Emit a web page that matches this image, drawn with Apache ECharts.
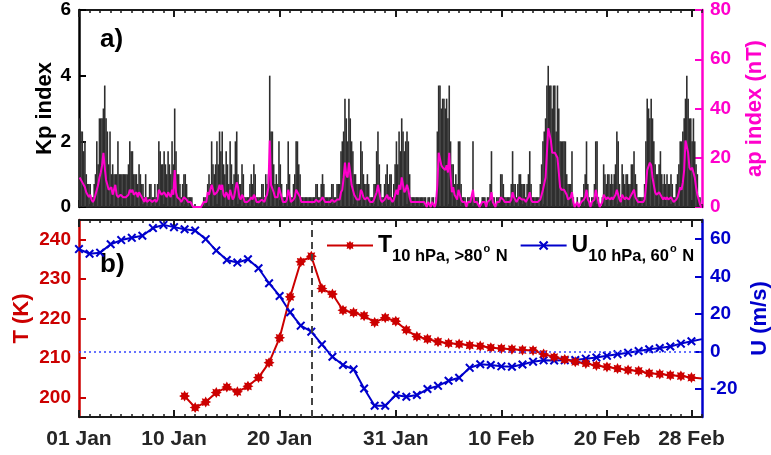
<!DOCTYPE html>
<html>
<head>
<meta charset="utf-8">
<script src="https://cdn.jsdelivr.net/npm/echarts@6/dist/echarts.min.js"></script>
<style>
html, body { margin: 0; padding: 0; background: #fff; }
#chart { width: 771px; height: 455px; }
</style>
</head>
<body>
<div id="chart"></div>
<script>
// Time axis: days since 01 Jan, labelled at these days
const dayCount = 59;
const tickDays = [0, 9, 19, 30, 40, 50, 58];
const tickLabels = ['01 Jan', '10 Jan', '20 Jan', '31 Jan', '10 Feb', '20 Feb', '28 Feb'];

// 3-hourly Kp index, one row of eight values per day (01 Jan .. 28 Feb)
const kp = [
  2.7, 2.3, 2.3, 1.7, 2.0, 1.0, 0.7, 0.7,
  0.7, 0.3, 0.3, 0.7, 1.0, 2.0, 1.3, 2.7,
  2.7, 2.7, 3.0, 3.7, 2.7, 2.3, 1.3, 2.3,
  1.0, 1.3, 1.0, 1.0, 1.0, 2.0, 1.0, 1.0,
  1.0, 1.0, 1.0, 1.0, 1.0, 1.3, 2.0, 1.7,
  1.7, 1.0, 1.0, 1.0, 0.7, 1.3, 1.0, 0.7,
  0.7, 0.3, 1.0, 0.3, 0.3, 0.7, 0.7, 0.3,
  0.3, 0.7, 0.3, 0.7, 2.0, 1.7, 1.3, 1.3,
  1.7, 1.3, 1.0, 1.7, 1.3, 1.0, 2.0, 1.3,
  3.0, 1.7, 1.0, 1.0, 0.7, 0.3, 0.7, 1.0,
  1.0, 0.7, 0.3, 0.3, 0.3, 0.3, 0.0, 0.0,
  0.0, 0.0, 0.0, 0.0, 0.0, 0.0, 0.3, 0.3,
  0.3, 0.7, 1.0, 0.7, 2.0, 1.3, 1.0, 1.3,
  2.0, 1.3, 2.3, 1.7, 2.3, 1.3, 1.0, 1.7,
  1.3, 0.7, 2.0, 1.3, 0.7, 1.0, 2.0, 2.3,
  1.0, 0.7, 0.7, 1.3, 1.0, 0.3, 0.3, 0.3,
  0.3, 0.7, 1.0, 0.7, 1.3, 1.0, 0.3, 0.3,
  0.3, 0.3, 0.7, 0.7, 0.3, 1.0, 0.7, 1.0,
  4.0, 2.3, 2.3, 1.3, 0.7, 1.0, 0.7, 2.0,
  1.3, 0.7, 0.3, 0.3, 0.3, 0.7, 2.0, 1.0,
  0.3, 0.3, 0.7, 1.0, 2.0, 2.0, 1.3, 1.0,
  0.3, 0.3, 0.3, 0.3, 0.3, 0.3, 0.3, 0.3,
  0.3, 0.3, 0.3, 0.7, 0.7, 0.3, 0.3, 0.7,
  1.0, 0.7, 0.3, 0.3, 0.3, 0.3, 0.3, 0.7,
  0.7, 0.3, 0.3, 0.7, 0.7, 0.7, 1.7, 2.0,
  2.3, 3.3, 2.7, 2.0, 3.3, 2.7, 2.0, 1.7,
  1.0, 1.0, 0.7, 0.7, 0.7, 2.0, 1.7, 1.0,
  0.7, 0.7, 1.0, 0.7, 0.3, 0.3, 0.3, 0.7,
  0.7, 1.7, 2.3, 1.3, 0.7, 0.3, 0.3, 0.7,
  1.0, 1.3, 0.7, 1.0, 1.0, 0.3, 0.7, 1.3,
  2.0, 1.3, 2.3, 1.7, 2.7, 2.3, 1.7, 2.0,
  2.3, 2.0, 1.0, 0.3, 0.3, 0.3, 0.3, 0.3,
  0.3, 0.3, 0.3, 0.3, 0.3, 0.3, 0.3, 0.0,
  0.3, 0.3, 0.0, 0.3, 0.3, 0.0, 0.3, 2.3,
  3.7, 3.7, 3.0, 3.3, 3.3, 3.0, 3.3, 2.7,
  3.7, 2.0, 1.3, 1.3, 0.7, 1.0, 0.7, 2.0,
  2.0, 0.7, 0.3, 0.3, 0.3, 0.0, 0.3, 0.3,
  0.3, 0.3, 2.0, 0.3, 0.3, 0.3, 0.3, 0.0,
  0.0, 0.3, 0.3, 0.3, 0.0, 0.3, 0.3, 0.7,
  1.7, 0.3, 0.3, 0.0, 0.3, 0.3, 0.3, 1.0,
  1.0, 0.7, 0.3, 0.3, 0.3, 0.3, 0.3, 0.7,
  1.7, 0.7, 0.7, 0.3, 0.7, 1.0, 1.0, 0.7,
  0.7, 0.7, 0.3, 0.7, 1.0, 1.7, 0.7, 0.3,
  0.3, 0.3, 0.3, 0.3, 0.3, 0.7, 1.3, 2.0,
  2.3, 2.7, 3.7, 4.3, 3.7, 3.7, 3.0, 3.7,
  3.7, 2.3, 3.7, 3.0, 2.0, 2.0, 2.0, 2.0,
  2.0, 1.0, 0.7, 0.7, 0.7, 1.7, 0.3, 0.0,
  0.0, 0.3, 0.0, 0.0, 0.3, 0.3, 0.7, 1.0,
  2.0, 0.7, 0.3, 0.0, 0.3, 0.3, 0.7, 2.0,
  2.0, 0.3, 0.0, 0.0, 0.3, 1.3, 1.0, 0.7,
  1.0, 1.0, 0.7, 1.0, 0.7, 1.0, 1.3, 2.3,
  2.0, 0.7, 0.3, 1.3, 1.0, 0.7, 1.0, 1.0,
  0.7, 0.7, 1.3, 1.3, 1.7, 1.0, 0.7, 0.3,
  0.3, 0.3, 0.3, 0.3, 0.7, 2.0, 3.3, 3.0,
  2.7, 3.3, 2.7, 2.0, 1.3, 1.0, 1.0, 1.3,
  1.7, 1.0, 0.7, 1.0, 0.7, 1.0, 0.7, 0.7,
  1.0, 0.7, 0.3, 0.3, 0.7, 1.0, 1.3, 2.0,
  2.0, 2.3, 2.7, 3.3, 4.0, 3.3, 2.7, 2.7,
  2.0, 2.7, 2.0, 1.3, 1.0, 0.3, 0.3, 0.0
];

// 3-hourly ap index (nT), same layout as kp
const ap = [
  12, 11, 10, 9, 8, 6, 5, 4,
  5, 3, 2, 3, 5, 7, 9, 12,
  14, 17, 22, 16, 11, 9, 7, 7,
  8, 5, 5, 9, 5, 4, 4, 5,
  5, 4, 4, 4, 4, 5, 7, 6,
  7, 5, 5, 6, 4, 6, 5, 4,
  3, 2, 4, 2, 2, 3, 3, 2,
  2, 3, 2, 3, 7, 6, 5, 5,
  6, 5, 4, 6, 5, 4, 7, 5,
  15, 6, 4, 4, 3, 2, 3, 4,
  4, 3, 2, 2, 2, 2, 0, 0,
  0, 0, 0, 0, 0, 0, 2, 2,
  2, 6, 5, 5, 9, 7, 5, 5,
  6, 7, 9, 7, 9, 5, 4, 6,
  5, 3, 7, 5, 3, 4, 7, 10,
  8, 4, 3, 5, 4, 2, 2, 2,
  2, 3, 4, 3, 5, 4, 2, 2,
  2, 2, 3, 3, 2, 4, 5, 8,
  27, 9, 9, 6, 4, 4, 4, 8,
  8, 4, 2, 2, 2, 3, 7, 5,
  2, 2, 3, 4, 7, 7, 5, 4,
  2, 2, 2, 2, 2, 2, 2, 2,
  2, 2, 2, 3, 3, 2, 2, 3,
  4, 3, 2, 2, 2, 2, 2, 3,
  3, 2, 2, 3, 3, 3, 6, 7,
  12, 18, 13, 12, 18, 14, 9, 7,
  5, 4, 3, 3, 3, 7, 6, 4,
  3, 3, 4, 3, 2, 2, 2, 3,
  3, 6, 9, 6, 3, 2, 2, 3,
  4, 5, 3, 4, 4, 2, 3, 5,
  7, 5, 9, 7, 12, 9, 6, 7,
  9, 7, 4, 2, 2, 2, 2, 2,
  2, 2, 2, 2, 2, 2, 2, 0,
  2, 2, 0, 2, 2, 0, 2, 9,
  22, 22, 17, 16, 16, 15, 17, 14,
  22, 13, 6, 8, 5, 4, 3, 7,
  5, 3, 2, 2, 2, 0, 2, 2,
  2, 2, 7, 2, 2, 2, 2, 0,
  0, 2, 2, 2, 0, 2, 2, 3,
  6, 2, 2, 0, 2, 2, 2, 4,
  4, 3, 2, 2, 2, 2, 2, 3,
  6, 4, 3, 2, 3, 4, 4, 3,
  3, 3, 2, 3, 4, 6, 3, 2,
  2, 2, 2, 2, 2, 3, 5, 7,
  7, 12, 22, 32, 32, 27, 22, 22,
  22, 22, 20, 14, 8, 7, 7, 7,
  7, 5, 3, 3, 4, 6, 2, 0,
  0, 2, 0, 0, 2, 2, 3, 4,
  7, 3, 2, 0, 2, 2, 3, 7,
  7, 2, 0, 0, 2, 5, 4, 3,
  4, 4, 3, 4, 3, 4, 5, 7,
  7, 3, 2, 5, 4, 3, 4, 4,
  3, 3, 5, 5, 7, 4, 3, 2,
  2, 2, 2, 2, 3, 8, 15, 15,
  18, 17, 12, 9, 6, 5, 5, 6,
  6, 4, 3, 4, 3, 4, 3, 3,
  4, 3, 2, 2, 3, 4, 6, 8,
  7, 10, 15, 27, 27, 22, 16, 15,
  16, 14, 12, 8, 5, 3, 1, 0
];

// Daily polar-cap temperature at 10 hPa (K), from 11 Jan (day 10)
const tempStartDay = 10;
const tempT = [
  200.3, 197.4, 198.8, 201.2, 202.6, 201.4, 202.8, 205.0, 208.8, 215.1,
  225.5, 234.4, 235.8, 227.6, 226.2, 222.1, 221.5, 220.7, 219.0, 220.2,
  219.3, 217.1, 215.4, 214.8, 214.1, 213.7, 213.5, 213.2, 213.0, 212.6,
  212.4, 212.2, 212.0, 211.9, 211.0, 210.2, 209.6, 209.0, 208.6, 208.1,
  207.7, 207.3, 206.9, 206.7, 206.1, 205.9, 205.6, 205.4, 205.0, 204.8
];

// Daily zonal-mean zonal wind at 10 hPa, 60N (m/s), from 01 Jan (day 0)
const windStartDay = 0;
const windU = [
  54.5, 52.0, 52.6, 57.1, 59.3, 60.5, 61.6, 65.7, 67.4, 66.2,
  65.1, 64.4, 59.8, 53.7, 48.7, 47.3, 49.1, 44.3, 36.3, 29.5,
  20.8, 13.7, 10.5, 3.7, -2.9, -7.3, -9.6, -19.8, -29.0, -29.0,
  -23.3, -24.2, -23.3, -20.1, -18.4, -15.7, -14.1, -8.8, -6.9, -7.3,
  -8.0, -8.2, -7.0, -5.5, -4.8, -4.9, -4.7, -4.6, -3.9, -3.3,
  -2.4, -1.5, -0.7, 0.2, 1.1, 1.8, 2.6, 4.1, 5.4, 6.5
];

// Central date of the warming (23 Jan)
const warmingDay = 22;

// y-axis tick values
const kpTicks = [0, 2, 4, 6];
const apTicks = [0, 20, 40, 60, 80];
const tTicks = [200, 210, 220, 230, 240];
const uTicks = [-20, 0, 20, 40, 60];

const FONT = 'Liberation Sans, Arial, Helvetica, sans-serif';
const INK = '#1a1a1a';
const RED = '#cc0000';
const BLUE = '#0000cc';
const MAGENTA = '#ff00cc';

// asterisk-like star marker and an "x" marker
function starPath(n, rOut, rIn) {
  let d = '';
  for (let k = 0; k < 2 * n; k++) {
    const r = k % 2 === 0 ? rOut : rIn;
    const a = Math.PI * k / n - Math.PI / 2;
    d += (k === 0 ? 'M' : 'L') + (r * Math.cos(a)).toFixed(3) + ',' + (r * Math.sin(a)).toFixed(3);
  }
  return 'path://' + d + 'Z';
}
const STAR = starPath(8, 1, 0.62);
const CROSS = 'path://M-1,-0.68L-0.68,-1L0,-0.32L0.68,-1L1,-0.68L0.32,0L1,0.68L0.68,1L0,0.32L-0.68,1L-1,0.68L-0.32,0Z';

// four x axes per panel: minor/major ticks on the bottom and top edges
function frameXAxes(gridIndex, withLabels) {
  const base = {
    type: 'value', gridIndex: gridIndex, min: 0, max: dayCount,
    splitLine: { show: false }
  };
  const edge = { show: true, onZero: false, lineStyle: { color: INK, width: 2 } };
  const noEdge = { show: false, onZero: false };
  const minorTick = { show: true, inside: true, length: 3, lineStyle: { color: INK, width: 1.5 } };
  const majorTick = { show: true, inside: true, length: 7, customValues: tickDays, lineStyle: { color: INK, width: 2 } };
  const labels = withLabels ? {
    show: true, customValues: tickDays, margin: 12,
    color: '#262626', fontFamily: FONT, fontWeight: 'bold', fontSize: 21,
    formatter: function (v) { return tickLabels[tickDays.indexOf(v)]; }
  } : { show: false };
  return [
    Object.assign({}, base, { position: 'bottom', interval: 1, axisLine: edge, axisTick: minorTick, axisLabel: { show: false } }),
    Object.assign({}, base, { position: 'bottom', axisLine: noEdge, axisTick: majorTick, axisLabel: labels }),
    Object.assign({}, base, { position: 'top', interval: 1, axisLine: edge, axisTick: minorTick, axisLabel: { show: false } }),
    Object.assign({}, base, { position: 'top', axisLine: noEdge, axisTick: majorTick, axisLabel: { show: false } })
  ];
}

function valueYAxis(gridIndex, position, min, max, ticks, color, name, nameGap) {
  return {
    type: 'value', gridIndex: gridIndex, position: position, min: min, max: max,
    splitLine: { show: false },
    axisLine: { show: true, onZero: false, lineStyle: { color: color, width: 2.5 } },
    axisTick: { show: true, inside: true, length: 7, customValues: ticks, lineStyle: { color: color, width: 2 } },
    axisLabel: { show: true, customValues: ticks, margin: 8, color: color, fontFamily: FONT, fontWeight: 'bold', fontSize: 19 },
    name: name, nameLocation: 'middle', nameGap: nameGap, nameMoveOverlap: false,
    nameTextStyle: { color: color, fontFamily: FONT, fontWeight: 'bold', fontSize: 22 }
  };
}

// 3-hourly samples are placed at the middle of their interval
const kpData = kp.map(function (v, i) { return [i / 8 + 1 / 16, v]; });
const apData = ap.map(function (v, i) { return [i / 8 + 1 / 16, v]; });
const tData = tempT.map(function (v, i) { return [tempStartDay + i, v]; });
const uData = windU.map(function (v, i) { return [windStartDay + i, v]; });

// the final sample only carries the line to the right edge
function markerSize(size, count) {
  return function (val, params) { return params.dataIndex === count - 1 ? 0 : size; };
}

const legendText = {
  T: '{m|T}{s|10 hPa, >80}{o|o}{s| N}',
  U: '{m|U}{s|10 hPa, 60}{o|o}{s| N}'
};

const chart = echarts.init(document.getElementById('chart'), null, { renderer: 'canvas' });
chart.setOption({
  animation: false,
  backgroundColor: '#ffffff',
  grid: [
    { left: 79, top: 10, width: 623, height: 197, containLabel: false, outerBoundsMode: 'none' },
    { left: 79, top: 220, width: 623, height: 197, containLabel: false, outerBoundsMode: 'none' }
  ],
  xAxis: frameXAxes(0, false).concat(frameXAxes(1, true)),
  yAxis: [
    valueYAxis(0, 'left', 0, 6, kpTicks, '#000000', 'Kp index', 23),
    valueYAxis(0, 'right', 0, 80, apTicks, MAGENTA, 'ap index (nT)', 42),
    valueYAxis(1, 'left', 195, 245, tTicks, RED, 'T (K)', 46),
    valueYAxis(1, 'right', -35, 70, uTicks, BLUE, 'U (m/s)', 47)
  ],
  legend: {
    data: ['T', 'U'],
    left: 326, top: 234, padding: 0,
    itemWidth: 46, itemHeight: 12, itemGap: 12,
    formatter: function (name) { return legendText[name]; },
    textStyle: {
      rich: {
        m: { fontFamily: FONT, fontWeight: 'bold', fontSize: 23, color: '#000' },
        s: { fontFamily: FONT, fontWeight: 'bold', fontSize: 16.5, color: '#000', padding: [22, 0, 0, 0] },
        o: { fontFamily: FONT, fontWeight: 'bold', fontSize: 11, color: '#000', padding: [6, 1, 0, 1] }
      }
    }
  },
  graphic: [
    { type: 'text', left: 100, top: 27, style: { text: 'a)', font: 'bold 26px ' + FONT, fill: '#000' } },
    { type: 'text', left: 100, top: 252, style: { text: 'b)', font: 'bold 26px ' + FONT, fill: '#000' } }
  ],
  series: [
    {
      name: 'Kp', type: 'bar', xAxisIndex: 0, yAxisIndex: 0,
      data: kpData, barWidth: 1.6, itemStyle: { color: '#2e2e2e' }, silent: true
    },
    {
      name: 'ap', type: 'line', xAxisIndex: 0, yAxisIndex: 1,
      data: apData, showSymbol: false, symbol: 'none',
      lineStyle: { color: MAGENTA, width: 2 }, silent: true
    },
    {
      name: 'U', type: 'line', xAxisIndex: 4, yAxisIndex: 3,
      data: uData, symbol: CROSS, symbolSize: markerSize(9, uData.length),
      itemStyle: { color: BLUE }, lineStyle: { color: BLUE, width: 2 },
      markLine: {
        silent: true, symbol: ['none', 'none'], label: { show: false },
        lineStyle: { color: '#3344ff', type: [2, 3], width: 1.5 },
        data: [{ yAxis: 0 }]
      }
    },
    {
      name: 'T', type: 'line', xAxisIndex: 4, yAxisIndex: 2,
      data: tData, symbol: STAR, symbolSize: markerSize(11, tData.length),
      itemStyle: { color: RED }, lineStyle: { color: RED, width: 2 },
      markLine: {
        silent: true, symbol: ['none', 'none'], label: { show: false },
        lineStyle: { color: '#444444', type: [7, 5], width: 2 },
        data: [{ xAxis: warmingDay }]
      }
    }
  ]
});
</script>
</body>
</html>
